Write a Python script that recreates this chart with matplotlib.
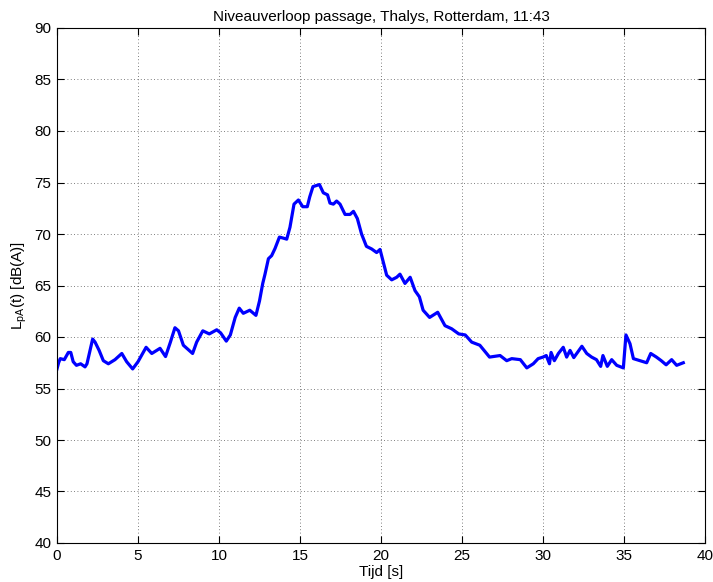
import matplotlib
matplotlib.use("Agg")
import matplotlib.pyplot as plt

t = [0.0, 0.1, 0.2, 0.45, 0.7, 0.85, 1.0, 1.2, 1.46, 1.73, 1.85, 2.2, 2.35, 2.6, 2.86,
     3.17, 3.58, 4.0, 4.3, 4.67, 5.0, 5.5, 5.85, 6.36, 6.7, 7.0, 7.28, 7.5, 7.8, 8.37,
     8.62, 9.0, 9.4, 9.86, 10.1, 10.45, 10.7, 11.0, 11.25, 11.5, 11.9, 12.28, 12.5, 12.7,
     12.84, 13.05, 13.25, 13.46, 13.73, 13.97, 14.18, 14.38, 14.63, 14.9, 15.17, 15.45,
     15.6, 15.8, 16.2, 16.44, 16.7, 16.85, 17.06, 17.26, 17.47, 17.78, 18.09, 18.3, 18.54,
     18.8, 19.1, 19.42, 19.73, 19.94, 20.14, 20.35, 20.66, 20.97, 21.17, 21.48, 21.8, 22.1,
     22.37, 22.6, 23.0, 23.5, 23.95, 24.36, 24.8, 25.2, 25.6, 26.1, 26.7, 27.35, 27.76,
     28.07, 28.6, 29.0, 29.4, 29.7, 30.0, 30.2, 30.4, 30.5, 30.7, 30.95, 31.25, 31.46,
     31.67, 31.9, 32.4, 32.7, 33.0, 33.3, 33.56, 33.7, 33.97, 34.24, 34.55, 34.96, 35.12,
     35.37, 35.58, 36.0, 36.4, 36.65, 37.0, 37.3, 37.6, 37.94, 38.25, 38.66]
L = [56.9, 57.5, 57.9, 57.8, 58.5, 58.5, 57.6, 57.25, 57.4, 57.1, 57.4, 59.8, 59.5, 58.7, 57.7,
     57.4, 57.8, 58.4, 57.6, 56.9, 57.6, 59.0, 58.4, 58.9, 58.1, 59.5, 60.9, 60.6, 59.2, 58.4,
     59.5, 60.6, 60.3, 60.7, 60.4, 59.6, 60.2, 61.9, 62.8, 62.3, 62.6, 62.1, 63.5, 65.2,
     66.1, 67.6, 67.9, 68.6, 69.7, 69.6, 69.5, 70.65, 72.9, 73.3, 72.65, 72.65,
     73.6, 74.6, 74.8, 74.0, 73.8, 73.0, 72.9, 73.2, 72.9, 71.9, 71.9, 72.2, 71.5,
     70.0, 68.8, 68.55, 68.2, 68.5, 67.3, 66.0, 65.55, 65.8, 66.1, 65.2, 65.8, 64.5,
     63.9, 62.6, 61.9, 62.4, 61.1, 60.8, 60.3, 60.2, 59.5, 59.2, 58.05, 58.2, 57.7,
     57.9, 57.8, 57.0, 57.4, 57.9, 58.05, 58.2, 57.4, 58.5, 57.7, 58.4, 59.0, 58.05,
     58.7, 58.0, 59.1, 58.4, 58.05, 57.8, 57.15, 58.2, 57.15, 57.8, 57.25, 57.0, 60.2,
     59.35, 57.9, 57.7, 57.5, 58.4, 58.05, 57.7, 57.3, 57.8, 57.25, 57.5]

xticks = [0, 5, 10, 15, 20, 25, 30, 35, 40]
yticks = [40, 45, 50, 55, 60, 65, 70, 75, 80, 85, 90]

plt.rcParams['font.family'] = ['Liberation Sans', 'DejaVu Sans']
plt.rcParams['mathtext.fontset'] = 'custom'
plt.rcParams['mathtext.rm'] = 'Liberation Sans'

fig = plt.figure(figsize=(7.13, 5.82), dpi=100)
ax = fig.add_axes([57/713, (582-543)/582, 648/713, 515/582])
ax.plot(t, L, color='#0000ff', linewidth=2.3)
ax.set_xlim(0, 40)
ax.set_ylim(40, 90)
ax.set_xticks(xticks)
ax.set_yticks(yticks)
ax.grid(True, linestyle=(0, (1, 3)), color='#555555', linewidth=0.6)
ax.tick_params(direction='in', top=True, right=True, length=5, labelsize=11,
               colors='black', width=0.8, pad=4)
for s in ax.spines.values():
    s.set_linewidth(0.8)
ax.set_title('Niveauverloop passage, Thalys, Rotterdam, 11:43', fontsize=11, pad=5)
ax.set_xlabel('Tijd [s]', fontsize=11, labelpad=2)
ax.set_ylabel(r'L$_{\mathregular{pA}}$(t) [dB(A)]', fontsize=11, labelpad=4)
fig.savefig('out.png', dpi=100)
